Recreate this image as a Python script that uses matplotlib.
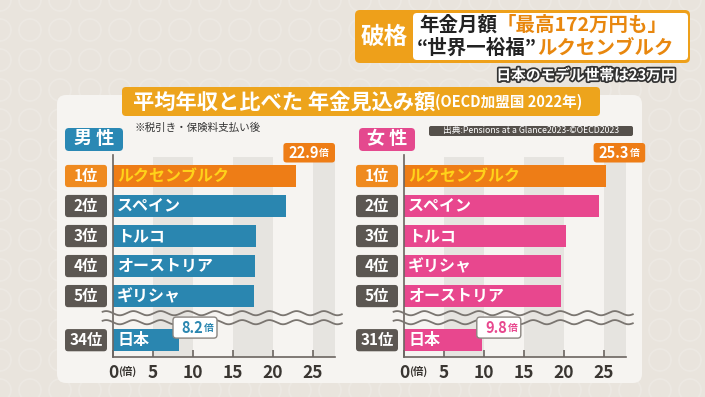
import matplotlib.pyplot as plt
import numpy as np
from matplotlib.patches import FancyBboxPatch, Circle
import matplotlib.patheffects as pe

plt.rcParams['font.family'] = ['Noto Sans CJK JP', 'DejaVu Sans']

# data (pension as a multiple of average annual income)
men_names = ['ルクセンブルク', 'スペイン', 'トルコ', 'オーストリア', 'ギリシャ', '日本']
men_ranks = ['1位', '2位', '3位', '4位', '5位', '34位']
men_values = [22.9, 21.6, 17.9, 17.8, 17.6, 8.2]

women_names = ['ルクセンブルク', 'スペイン', 'トルコ', 'ギリシャ', 'オーストリア', '日本']
women_ranks = ['1位', '2位', '3位', '4位', '5位', '31位']
women_values = [25.3, 24.4, 20.3, 19.6, 19.6, 9.8]

tick_values = [0, 5, 10, 15, 20, 25]
row_pos = [0, 1, 2, 3, 4, 5.47]

W, H = 705, 397
ORANGE = '#ee7d16'
BLUE = '#2a86b0'
PINK = '#e8478e'
GRAY_TAG = '#5c5752'

fig = plt.figure(figsize=(W / 100, H / 100), dpi=100)
fig.patch.set_facecolor('#e9e4dd')

# background layer in pixel coordinates
bg = fig.add_axes([0, 0, 1, 1])
bg.set_xlim(0, W)
bg.set_ylim(H, 0)
bg.axis('off')

for gx in range(0, W + 30, 30):
    for gy in range(0, H + 30, 30):
        bg.add_patch(Circle((gx, gy), 11, fill=False, ec='white', alpha=0.18, lw=1.2))

# main white panel
bg.add_patch(FancyBboxPatch((57, 95), 585, 288, boxstyle='round,pad=0,rounding_size=9',
                            fc='#f6f4f1', ec='none'))

renderer = fig.canvas.get_renderer()


def seq_text(x, y, parts, **kw):
    for s, c, size in parts:
        t = bg.text(x, y, s, color=c, fontsize=size, fontweight='bold',
                    va='center', ha='left', **kw)
        x += t.get_window_extent(renderer).width
    return x


# headline box top right
bg.add_patch(FancyBboxPatch((355, 10), 335, 53, boxstyle='round,pad=0,rounding_size=5',
                            fc='#eea01a', ec='none'))
bg.add_patch(FancyBboxPatch((413, 13), 275, 47, boxstyle='round,pad=0,rounding_size=4',
                            fc='white', ec='none'))
bg.text(384, 37, '破格', color='white', fontsize=17, fontweight='bold', ha='center', va='center')
seq_text(419, 25, [('年金月額', '#222222', 14), ('「最高172万円も」', '#e8870e', 14)])
seq_text(417, 48, [('“世界一裕福”', '#222222', 14), ('ルクセンブルク', '#e8870e', 14)])
bg.text(676, 75, '日本のモデル世帯は23万円', color='white', fontsize=10.6, fontweight='bold',
        ha='right', va='center',
        path_effects=[pe.withStroke(linewidth=2.5, foreground='#333333')])

# title banner
bg.add_patch(FancyBboxPatch((122, 87), 478, 29, boxstyle='round,pad=0,rounding_size=4',
                            fc='#eda41c', ec='none'))
seq_text(133, 102, [('平均年収と比べた 年金見込み額', 'white', 15.3),
                    ('(OECD加盟国 2022年)', 'white', 10.5)])

# gender tags and notes
bg.add_patch(FancyBboxPatch((65, 128), 58, 23, boxstyle='round,pad=0,rounding_size=4',
                            fc='#2a88b4', ec='none'))
bg.text(94, 139, '男 性', color='white', fontsize=13, fontweight='bold', ha='center', va='center')
bg.add_patch(FancyBboxPatch((359, 128), 56, 23, boxstyle='round,pad=0,rounding_size=4',
                            fc='#e4498e', ec='none'))
bg.text(387, 139, '女 性', color='white', fontsize=13, fontweight='bold', ha='center', va='center')
bg.text(135, 128, '※税引き・保険料支払い後', color='#333333', fontsize=7.6, va='center', ha='left')
bg.add_patch(FancyBboxPatch((429, 126), 204, 10, boxstyle='round,pad=0,rounding_size=2',
                            fc='#55504b', ec='none'))
bg.text(531, 131, '出典:Pensions at a Glance2023-©OECD2023', color='white', fontsize=6.3,
        ha='center', va='center')


def panel(x0, names, ranks, values, bar_color):
    ax = fig.add_axes([x0 / W, 1 - 357 / H, 222 / W, 202 / H])
    ax.patch.set_alpha(0)
    ax.set_xlim(0, 27.75)
    ax.set_ylim(6.03, -0.7)

    for a, b in [(5, 10), (15, 20), (25, 27.75)]:
        ax.axvspan(a, b, ymin=0, ymax=0.99, color='#e6e4e0', lw=0, zorder=0)

    colors = [ORANGE] + [bar_color] * (len(values) - 1)
    ax.barh(row_pos, values, height=0.73, color=colors, zorder=2)

    for i, (y, name, rank) in enumerate(zip(row_pos, names, ranks)):
        ax.text(0.5, y, name, color='#ffd21a' if i == 0 else 'white', fontsize=11.5,
                fontweight='bold', va='center', ha='left', zorder=3)
        fc = '#ef8a1f' if i == 0 else GRAY_TAG
        ax.add_patch(FancyBboxPatch((-6.0, y - 0.37), 5.25, 0.74,
                                    boxstyle='round,pad=0,rounding_size=0.4',
                                    mutation_aspect=8 / 30, fc=fc, ec='none', clip_on=False))
        ax.text(-3.37, y, rank, color='white', fontsize=11, fontweight='bold',
                ha='center', va='center', clip_on=False)

    # break marks
    xs = np.linspace(-1.3, 28.6, 400)
    for yb in (4.57, 4.87):
        ax.plot(xs, yb + 0.07 * np.sin(2 * np.pi * xs / 3.4), color='#7a7570', lw=1.3,
                clip_on=False, zorder=4)

    # value labels
    top = values[0]
    ax.add_patch(FancyBboxPatch((top - 1.6, -1.1), 6.45, 0.65,
                                boxstyle='round,pad=0,rounding_size=0.4',
                                mutation_aspect=8 / 30, fc=ORANGE, ec='none', clip_on=False, zorder=5))
    ax.text(top + 2.85, -0.78, f'{top}', color='white', fontsize=10.5, fontweight='bold',
            ha='right', va='center', clip_on=False, zorder=6)
    ax.text(top + 2.9, -0.76, '倍', color='white', fontsize=7, fontweight='bold',
            ha='left', va='center', clip_on=False, zorder=6)

    jp = values[-1]
    ax.add_patch(FancyBboxPatch((jp - 0.7, 4.7), 5.5, 0.7,
                                boxstyle='round,pad=0,rounding_size=0.4',
                                mutation_aspect=8 / 30, fc='white', ec='#8a8580', lw=1,
                                clip_on=False, zorder=5))
    ax.text(jp + 3.1, 5.05, f'{jp}', color=bar_color, fontsize=10.5, fontweight='bold',
            ha='right', va='center', zorder=6)
    ax.text(jp + 3.15, 5.07, '倍', color=bar_color, fontsize=7, fontweight='bold',
            ha='left', va='center', zorder=6)

    # axes styling
    for s in ('top', 'right'):
        ax.spines[s].set_visible(False)
    for s in ('left', 'bottom'):
        ax.spines[s].set_color('#6b6560')
        ax.spines[s].set_linewidth(1.2)
    ax.set_yticks([])
    ax.set_xticks(tick_values)
    ax.set_xticklabels([str(v) for v in tick_values])
    ax.tick_params(axis='x', direction='in', length=5, width=1.2, color='#6b6560',
                   labelsize=12.5, labelcolor='#3a3632', pad=5)
    for lbl in ax.get_xticklabels():
        lbl.set_fontweight('bold')
    ax.text(1.8, -14 / 202, '(倍)', transform=ax.get_xaxis_transform(), fontsize=7.5,
            color='#3a3632', ha='center', va='center', fontweight='bold')
    return ax


panel(113, men_names, men_ranks, men_values, BLUE)
panel(404, women_names, women_ranks, women_values, PINK)

fig.savefig('out.png', dpi=100)
